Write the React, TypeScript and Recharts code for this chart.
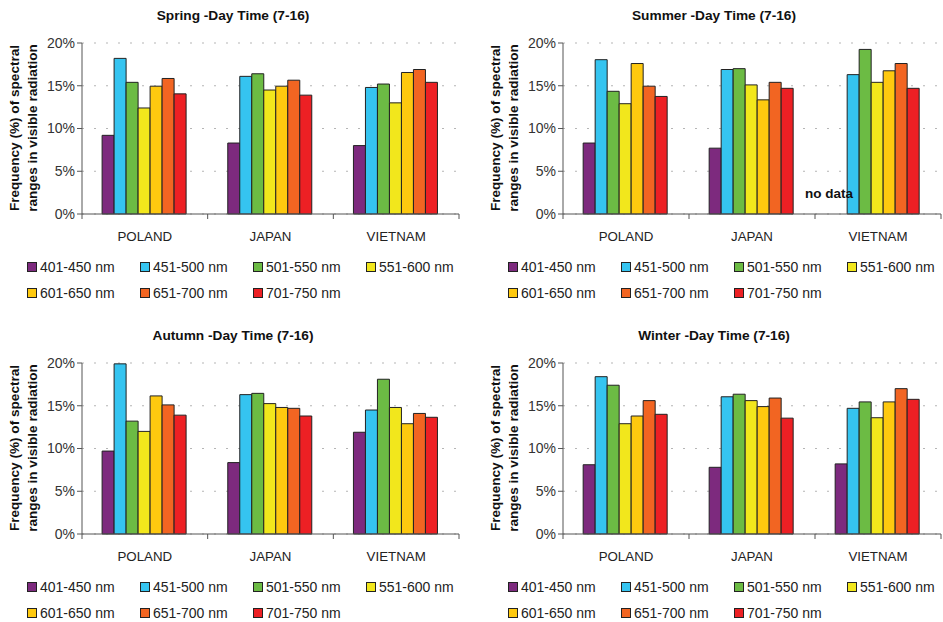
import { BarChart, Bar, XAxis, YAxis, CartesianGrid } from "recharts";

const countries = ["POLAND", "JAPAN", "VIETNAM"];
const bands = ["401-450 nm", "451-500 nm", "501-550 nm", "551-600 nm", "601-650 nm", "651-700 nm", "701-750 nm"];
const bandColors = ["#7d2a7e", "#35c4f0", "#6cbb44", "#f2e71c", "#fec90f", "#f26522", "#ed2024"];
const yTicks = [0, 5, 10, 15, 20];

// one row per band, one value per country (POLAND, JAPAN, VIETNAM)
const springValues: (number | null)[][] = [
  [9.2, 8.3, 8.0],
  [18.2, 16.1, 14.8],
  [15.4, 16.4, 15.2],
  [12.4, 14.5, 13.0],
  [14.95, 14.95, 16.55],
  [15.85, 15.65, 16.9],
  [14.05, 13.9, 15.4],
];
const summerValues: (number | null)[][] = [
  [8.3, 7.7, null],
  [18.05, 16.9, 16.3],
  [14.35, 17.0, 19.25],
  [12.9, 15.1, 15.4],
  [17.6, 13.35, 16.75],
  [14.95, 15.4, 17.6],
  [13.75, 14.7, 14.7],
];
const autumnValues: (number | null)[][] = [
  [9.7, 8.35, 11.9],
  [19.9, 16.3, 14.5],
  [13.2, 16.45, 18.1],
  [12.0, 15.25, 14.8],
  [16.15, 14.8, 12.9],
  [15.1, 14.7, 14.1],
  [13.9, 13.8, 13.65],
];
const winterValues: (number | null)[][] = [
  [8.1, 7.8, 8.2],
  [18.4, 16.05, 14.7],
  [17.4, 16.35, 15.45],
  [12.9, 15.6, 13.6],
  [13.8, 14.9, 15.45],
  [15.6, 15.9, 17.0],
  [14.0, 13.55, 15.75],
];

const FONT = '"Liberation Sans", Arial, sans-serif';
const PLOT_LEFT = 82;
const PLOT_TOP = 43;
const PLOT_BOTTOM = 214;
const X_AXIS_H = 30;

function buildRows(values: (number | null)[][]) {
  return countries.map((c, i) => {
    const row: Record<string, string | number | null> = { country: c };
    bands.forEach((b, j) => {
      row[b] = values[j][i];
    });
    return row;
  });
}

function CategoryTick(props: any) {
  const { x, payload, index, band } = props;
  const half = band / 2;
  return (
    <g>
      <line x1={x - half} x2={x - half} y1={PLOT_BOTTOM} y2={PLOT_BOTTOM + 5} stroke="#555" />
      {index === countries.length - 1 && (
        <line x1={x + half} x2={x + half} y1={PLOT_BOTTOM} y2={PLOT_BOTTOM + 5} stroke="#555" />
      )}
      <text x={x} y={PLOT_BOTTOM + 27} textAnchor="middle" fontSize={13.3} fill="#222" fontFamily={FONT}>
        {payload.value}
      </text>
    </g>
  );
}

function LegendBlock() {
  return (
    <div style={{ position: "absolute", left: 27, top: 258, width: 440, fontFamily: FONT, fontSize: 14, color: "#222" }}>
      {bands.map((b, i) => (
        <div
          key={b}
          style={{
            position: "absolute",
            left: (i % 4) * 113,
            top: Math.floor(i / 4) * 26,
            display: "flex",
            alignItems: "center",
            height: 18,
            whiteSpace: "nowrap",
          }}
        >
          <span
            style={{
              display: "inline-block",
              width: 8,
              height: 8,
              border: "1px solid #222",
              background: bandColors[i],
              marginRight: 3,
            }}
          />
          {b}
        </div>
      ))}
    </div>
  );
}

interface PanelProps {
  title: string;
  values: (number | null)[][];
  left: number;
  top: number;
  width: number;
  noData?: boolean;
}

function Panel({ title, values, left, top, width, noData }: PanelProps) {
  const plotRight = width - (width === 471 ? 12 : 2);
  const band = (plotRight - PLOT_LEFT) / countries.length;
  const data = buildRows(values);
  return (
    <div style={{ position: "absolute", left, top, width, height: 302, fontFamily: FONT }}>
      <div
        style={{
          position: "absolute",
          left: 0,
          width: 466,
          top: 8,
          textAlign: "center",
          fontWeight: "bold",
          fontSize: 13.7,
          color: "#111",
        }}
      >
        {title}
      </div>
      <div
        style={{
          position: "absolute",
          left: 24 - 90,
          top: 128 - 18,
          width: 180,
          height: 36,
          transform: "rotate(-90deg)",
          textAlign: "center",
          fontWeight: "bold",
          fontSize: 13.6,
          lineHeight: "18px",
          color: "#111",
        }}
      >
        Frequency (%) of spectral
        <br />
        ranges in visible radiation
      </div>
      <div style={{ position: "absolute", left: 0, top: 0 }}>
        <BarChart
          width={width}
          height={PLOT_BOTTOM + X_AXIS_H}
          data={data}
          margin={{ top: PLOT_TOP, right: width - plotRight, bottom: 0, left: 0 }}
          barCategoryGap="16%"
          barGap={0}
        >
          <CartesianGrid horizontal vertical={false} stroke="#b5b5b5" strokeDasharray="2 10" />
          <XAxis
            dataKey="country"
            height={X_AXIS_H}
            axisLine={{ stroke: "#555" }}
            tickLine={false}
            interval={0}
            tick={(p: any) => <CategoryTick {...p} band={band} />}
          />
          <YAxis
            width={PLOT_LEFT}
            domain={[0, 20]}
            ticks={yTicks}
            interval={0}
            tickFormatter={(v) => `${v}%`}
            tick={{ fill: "#333", fontSize: 14, fontFamily: FONT }}
            tickSize={5}
            tickLine={{ stroke: "#555" }}
            axisLine={{ stroke: "#555" }}
          />
          {bands.map((b, i) => (
            <Bar key={b} dataKey={b} fill={bandColors[i]} stroke="#222" strokeWidth={1} isAnimationActive={false} />
          ))}
        </BarChart>
      </div>
      {noData && (
        <div
          style={{
            position: "absolute",
            left: 324,
            top: 186,
            fontWeight: "bold",
            fontSize: 13.5,
            color: "#111",
          }}
        >
          no data
        </div>
      )}
      <LegendBlock />
    </div>
  );
}

export default function App() {
  return (
    <div style={{ position: "absolute", left: 0, top: 0, width: 943, height: 622, background: "#fff" }}>
      <Panel title="Spring -Day Time (7-16)" values={springValues} left={0} top={0} width={471} />
      <Panel title="Summer -Day Time (7-16)" values={summerValues} left={481} top={0} width={462} noData />
      <Panel title="Autumn -Day Time (7-16)" values={autumnValues} left={0} top={320} width={471} />
      <Panel title="Winter -Day Time (7-16)" values={winterValues} left={481} top={320} width={462} />
    </div>
  );
}
